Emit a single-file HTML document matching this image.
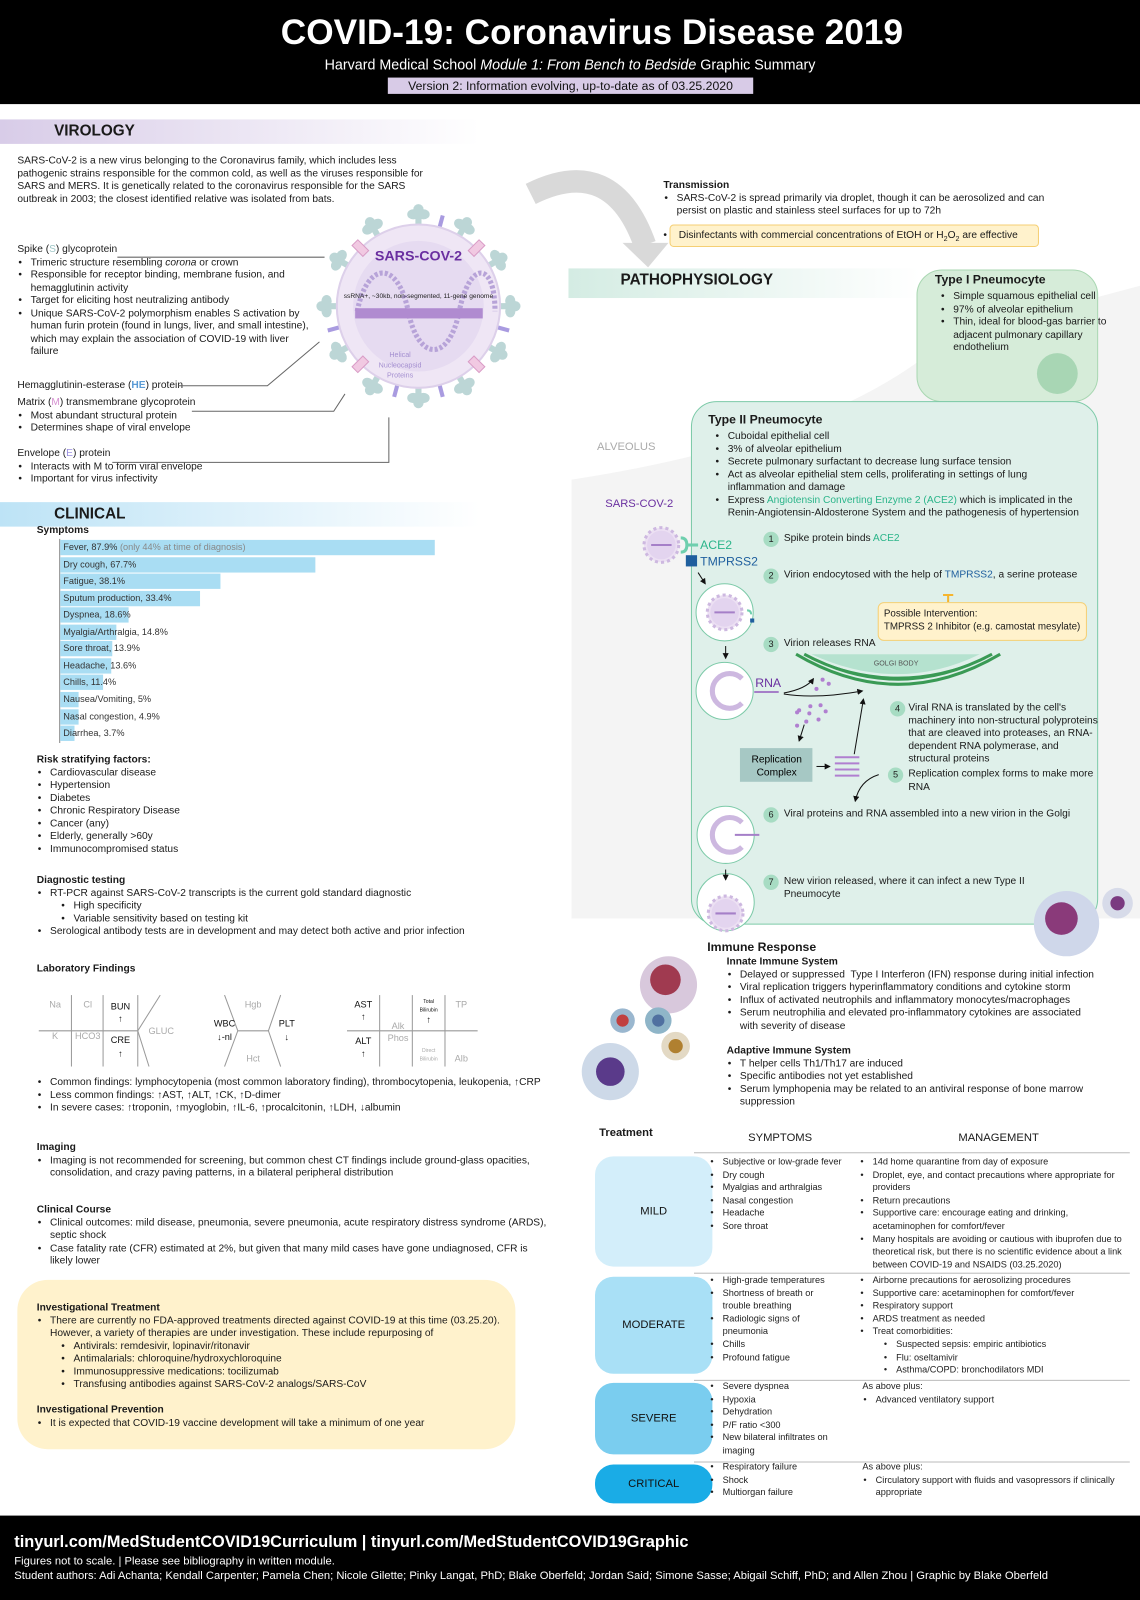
<!DOCTYPE html>
<html style="width:1140px;height:1600px;overflow:hidden"><head><meta charset="utf-8">
<style>
*{margin:0;padding:0;box-sizing:border-box}
body{width:1140px;height:1600px;position:relative;background:#fff;font-family:"Liberation Sans",Arial,sans-serif;color:#1a1a1a;overflow:hidden;font-size:10px;line-height:12.5px}
#w{position:absolute;left:0;top:0;width:1117px;height:1567px;overflow:hidden;transform:scale(1.0206);transform-origin:0 0}
.a{position:absolute}
ul{list-style:none}
ul li{position:relative;padding-left:13px}
ul li:before{content:"•";position:absolute;left:1px}
b{font-weight:bold}
.bar{position:absolute;left:59px;height:15px;background:#a9ddf3;font-size:9px;line-height:15px;padding-left:3px;white-space:nowrap;color:#333}
.num{position:absolute;width:15px;height:15px;border-radius:50%;background:#a7dcc3;font-size:9px;line-height:15px;text-align:center;color:#222}
.tr{font-size:9px;line-height:12.6px;color:#222}
.rb{position:absolute;left:583px;width:115px;border-radius:18px;text-align:center;font-size:11px;color:#111;display:flex;align-items:center;justify-content:center}
.hl{position:absolute;left:680px;width:427px;height:1px;background:#bbb}
</style></head><body><div id="w">

<!-- header -->
<div class="a" style="left:0;top:0;width:1117px;height:102px;background:#000"></div>
<div class="a" style="left:0;top:11px;width:1117px;padding-left:43px;text-align:center;color:#fff;font-weight:bold;font-size:34.5px;line-height:42px">COVID-19: Coronavirus Disease 2019</div>
<div class="a" style="left:0;top:55px;width:1117px;text-align:center;color:#fff;font-size:14px;line-height:17px">Harvard Medical School <i>Module 1: From Bench to Bedside</i> Graphic Summary</div>
<div class="a" style="left:380px;top:76px;width:358px;height:16px;background:#d8cbe7;color:#111;font-size:12px;line-height:16px;text-align:center">Version 2: Information evolving, up-to-date as of 03.25.2020</div>

<!-- virology -->
<div class="a" style="left:0;top:117px;width:470px;height:24px;background:linear-gradient(90deg,#d8cce8,#fff)"></div>
<div class="a" style="left:53px;top:120px;font-weight:bold;font-size:15px;line-height:18px">VIROLOGY</div>
<div class="a" style="left:17px;top:152px;width:405px">SARS-CoV-2 is a new virus belonging to the Coronavirus family, which includes less pathogenic strains responsible for the common cold, as well as the viruses responsible for SARS and MERS. It is genetically related to the coronavirus responsible for the SARS outbreak in 2003; the closest identified relative was isolated from bats.</div>
<div class="a" style="left:17px;top:239px;width:292px">Spike (<span style="color:#9fc7c7">S</span>) glycoprotein
<ul><li>Trimeric structure resembling <i>corona</i> or crown</li><li>Responsible for receptor binding, membrane fusion, and hemagglutinin activity</li><li>Target for eliciting host neutralizing antibody</li><li>Unique SARS-CoV-2 polymorphism enables S activation by human furin protein (found in lungs, liver, and small intestine), which may explain the association of COVID-19 with liver failure</li></ul></div>
<div class="a" style="left:17px;top:372px">Hemagglutinin-esterase (<b style="color:#5b9bd5">HE</b>) protein</div>
<div class="a" style="left:17px;top:389px">Matrix (<span style="color:#d58fd0">M</span>) transmembrane glycoprotein<ul><li>Most abundant structural protein</li><li>Determines shape of viral envelope</li></ul></div>
<div class="a" style="left:17px;top:439px">Envelope (<span style="color:#9b8fe0">E</span>) protein<ul><li>Interacts with M to form viral envelope</li><li>Important for virus infectivity</li></ul></div>

<svg class="a" style="left:0;top:0" width="1117" height="1567">
 <g stroke="#666" stroke-width="1" fill="none">
  <polyline points="115,252 318,252"/>
  <polyline points="175,378 262,378 313,335"/>
  <polyline points="188,403 327,403 338,386"/>
  <polyline points="110,453 381,453 381,409"/>
 </g>
 <path d="M520,190 Q600,150 632,240" stroke="#d9d9d9" stroke-width="22" fill="none"/>
 <polygon points="610,238 655,238 635,262" fill="#d9d9d9"/>
 <g transform="translate(410,300)">
  <g fill="#bcd6d6">
   <g id="sp"><rect x="-3" y="-88" width="6" height="14"/><ellipse cx="-5" cy="-90" rx="6" ry="5"/><ellipse cx="5" cy="-90" rx="6" ry="5"/><ellipse cx="0" cy="-95" rx="5" ry="5"/></g>
   <use href="#sp" transform="rotate(30)"/><use href="#sp" transform="rotate(60)"/><use href="#sp" transform="rotate(90)"/><use href="#sp" transform="rotate(120)"/><use href="#sp" transform="rotate(150)"/><use href="#sp" transform="rotate(180)"/><use href="#sp" transform="rotate(210)"/><use href="#sp" transform="rotate(240)"/><use href="#sp" transform="rotate(270)"/><use href="#sp" transform="rotate(300)"/><use href="#sp" transform="rotate(330)"/>
  </g>
  <g stroke="#a99be0" stroke-width="4"><line x1="0" y1="-78" x2="0" y2="-92" transform="rotate(15)"/><line x1="0" y1="-78" x2="0" y2="-92" transform="rotate(105)"/><line x1="0" y1="-78" x2="0" y2="-92" transform="rotate(195)"/><line x1="0" y1="-78" x2="0" y2="-92" transform="rotate(255)"/><line x1="0" y1="-78" x2="0" y2="-92" transform="rotate(165)"/></g>
  <circle r="80" fill="#efe6f5" stroke="#ddd0ea" stroke-width="2"/>
  <g fill="#f1c9e2" stroke="#d99cc6"><rect x="-4" y="-88" width="8" height="15" transform="rotate(45)"/><rect x="-4" y="-88" width="8" height="15" transform="rotate(-45)"/><rect x="-4" y="-88" width="8" height="15" transform="rotate(135)"/><rect x="-4" y="-88" width="8" height="15" transform="rotate(225)"/></g>
  <circle r="64" fill="#e6dbf1"/>
  <path d="M-60,5 C-50,-45 -20,-45 -10,5 C0,55 30,55 40,5 C50,-45 75,-45 75,5" stroke="#b7a3d8" stroke-width="5" fill="none" stroke-dasharray="3 2"/>
  <rect x="-62" y="2" width="125" height="10" fill="#b08bd0"/>
 </g>
 <text x="410" y="255" font-size="14" font-weight="bold" fill="#6a2fa0" text-anchor="middle" font-family="Liberation Sans">SARS-COV-2</text>
 <text x="410" y="292" font-size="6.5" fill="#222" text-anchor="middle" font-family="Liberation Sans">ssRNA+, ~30kb, non-segmented, 11-gene genome</text>
 <text x="392" y="350" font-size="7" fill="#a48fd0" text-anchor="middle" font-family="Liberation Sans">Helical</text>
 <text x="392" y="360" font-size="7" fill="#a48fd0" text-anchor="middle" font-family="Liberation Sans">Nucleocapsid</text>
 <text x="392" y="370" font-size="7" fill="#a48fd0" text-anchor="middle" font-family="Liberation Sans">Proteins</text>
</svg>

<!-- transmission -->
<div class="a" style="left:650px;top:176px;width:400px"><b>Transmission</b><ul><li>SARS-CoV-2 is spread primarily via droplet, though it can be aerosolized and can persist on plastic and stainless steel surfaces for up to 72h</li></ul></div>
<div class="a" style="left:650px;top:225px">•</div>
<div class="a" style="left:656px;top:220px;width:362px;height:22px;background:#fff2cc;border:1px solid #f5cf74;border-radius:4px;padding:4px 8px">Disinfectants with commercial concentrations of EtOH or H<sub style="font-size:7px">2</sub>O<sub style="font-size:7px">2</sub> are effective</div>

<!-- patho -->
<div class="a" style="left:557px;top:263px;width:345px;height:29px;background:linear-gradient(90deg,#d4ece3,#fff)"></div>
<div class="a" style="left:608px;top:266px;font-weight:bold;font-size:15px;line-height:18px">PATHOPHYSIOLOGY</div>
<svg class="a" style="left:0;top:0" width="1117" height="1567">
 <path d="M560,470 Q820,430 930,330 L1117,280 L1117,900 L560,900 Z" fill="#f4f4f4"/>
</svg>
<div class="a" style="left:898px;top:264px;width:178px;height:130px;background:#d6ecd9;border:1px solid #a9d7b2;border-radius:25px"></div>
<div class="a" style="left:1016px;top:346px;width:40px;height:40px;border-radius:50%;background:#a8d6b4"></div>
<div class="a" style="left:916px;top:267px;font-weight:bold;font-size:12px;line-height:14px">Type I Pneumocyte</div>
<div class="a" style="left:921px;top:285px;width:172px"><ul><li>Simple squamous epithelial cell</li><li>97% of alveolar epithelium</li><li>Thin, ideal for blood-gas barrier to adjacent pulmonary capillary endothelium</li></ul></div>

<div class="a" style="left:677px;top:393px;width:399px;height:513px;background:#dff0ea;border:1px solid #7ccaa8;border-radius:25px"></div>
<div class="a" style="left:585px;top:432px;font-size:11px;color:#aaa">ALVEOLUS</div>
<div class="a" style="left:593px;top:488px;font-size:11px;color:#6a2fa0">SARS-COV-2</div>
<div class="a" style="left:694px;top:404px;font-weight:bold;font-size:12px;line-height:14px">Type II Pneumocyte</div>
<div class="a" style="left:700px;top:422px;width:358px"><ul><li>Cuboidal epithelial cell</li><li>3% of alveolar epithelium</li><li>Secrete pulmonary surfactant to decrease lung surface tension</li><li>Act as alveolar epithelial stem cells, proliferating in settings of lung inflammation and damage</li><li>Express <span style="color:#2bb58a">Angiotensin Converting Enzyme 2 (ACE2)</span> which is implicated in the Renin-Angiotensin-Aldosterone System and the pathogenesis of hypertension</li></ul></div>

<svg class="a" style="left:0;top:0" width="1117" height="1567" font-family="Liberation Sans">
 <defs>
  <g id="vir"><circle r="17" fill="#ece0f3" stroke="#cdb8e0" stroke-dasharray="3 3" stroke-width="3"/><circle r="14" fill="#e3d4ef"/><line x1="-10" y1="0" x2="10" y2="0" stroke="#a57fc8" stroke-width="2"/></g>
  <marker id="ar" markerWidth="6" markerHeight="6" refX="5" refY="3" orient="auto"><path d="M0,0 L6,3 L0,6 Z" fill="#111"/></marker>
 </defs>
 <use href="#vir" x="648" y="534"/>
 <path d="M667,527 q6,0 6,7 q0,7 -6,7" stroke="#6fcfae" stroke-width="3" fill="none"/><line x1="673" y1="534" x2="684" y2="534" stroke="#6fcfae" stroke-width="3"/>
 <rect x="672" y="544" width="11" height="11" fill="#1f5f9e"/>
 <text x="686" y="538" font-size="12" fill="#2bb58a">ACE2</text>
 <text x="686" y="554" font-size="12" fill="#1f5f9e">TMPRSS2</text>
 <line x1="684" y1="561" x2="691" y2="572" stroke="#111" marker-end="url(#ar)"/>
 <g fill="#fff" stroke="#7ccaa8"><circle cx="710" cy="600" r="28"/><circle cx="710" cy="677" r="28"/><circle cx="711" cy="818" r="28"/><circle cx="711" cy="884" r="28"/></g>
 <use href="#vir" x="710" y="600"/>
 <rect x="735" y="606" width="4" height="4" fill="#1f5f9e"/>
 <path d="M732,598 q4,0 4,4" stroke="#6fcfae" stroke-width="2" fill="none"/>
 <path d="M727,665 a17,17 0 1 0 0,24" stroke="#cdb8e0" stroke-width="5" fill="none"/>
 <path d="M727,806 a17,17 0 1 0 0,24" stroke="#cdb8e0" stroke-width="5" fill="none"/>
 <line x1="720" y1="818" x2="744" y2="818" stroke="#a57fc8" stroke-width="2"/>
 <use href="#vir" x="711" y="895"/>
 <line x1="711" y1="633" x2="711" y2="645" stroke="#111" marker-end="url(#ar)"/>
 <line x1="711" y1="852" x2="711" y2="862" stroke="#111" marker-end="url(#ar)"/>
 <text x="740" y="673" font-size="12" fill="#6a2fa0">RNA</text>
 <line x1="739" y1="678" x2="763" y2="678" stroke="#a57fc8" stroke-width="2"/>
 <path d="M795,641 Q880,680 960,641 Z" fill="#b5e2cf"/>
 <path d="M780,641 Q880,700 980,641" stroke="#3a9a55" stroke-width="3" fill="none"/>
 <path d="M788,641 Q880,690 972,641" stroke="#3a9a55" stroke-width="3" fill="none"/>
 <path d="M795,645 Q880,683 965,645" stroke="#3a9a55" stroke-width="2" fill="none"/>
 <text x="878" y="652" font-size="7" fill="#555" text-anchor="middle">GOLGI BODY</text>
 <path d="M768,679 Q790,675 797,665" stroke="#111" fill="none" marker-end="url(#ar)"/>
 <path d="M768,680 Q800,685 845,677" stroke="#111" fill="none" marker-end="url(#ar)"/>
 <g fill="#b07fd0"><circle cx="806" cy="666" r="2"/><circle cx="812" cy="670" r="2"/><circle cx="800" cy="675" r="2"/><circle cx="794" cy="692" r="2"/><circle cx="783" cy="696" r="2"/><circle cx="793" cy="699" r="2"/><circle cx="804" cy="691" r="2"/><circle cx="809" cy="697" r="2"/><circle cx="790" cy="707" r="2"/><circle cx="781" cy="711" r="2"/><circle cx="802" cy="705" r="2"/><circle cx="781" cy="698" r="2"/></g>
 <line x1="788" y1="710" x2="783" y2="726" stroke="#111" marker-end="url(#ar)"/>
 <rect x="725" y="733" width="71" height="33" fill="#a6c8c4"/>
 <text x="761" y="747" font-size="10" text-anchor="middle">Replication</text>
 <text x="761" y="760" font-size="10" text-anchor="middle">Complex</text>
 <line x1="800" y1="751" x2="813" y2="751" stroke="#111" marker-end="url(#ar)"/>
 <g stroke="#b07fd0" stroke-width="2"><line x1="818" y1="742" x2="842" y2="742"/><line x1="818" y1="748" x2="842" y2="748"/><line x1="818" y1="754" x2="842" y2="754"/><line x1="818" y1="760" x2="842" y2="760"/></g>
 <line x1="837" y1="739" x2="846" y2="685" stroke="#111" marker-end="url(#ar)"/>
 <path d="M861,759 Q842,765 838,785" stroke="#111" fill="none" marker-end="url(#ar)"/>
 <path d="M929,583 L929,590 M924,583 L934,583" stroke="#f5b52e" stroke-width="2"/>
</svg>
<div class="num" style="left:748px;top:521px">1</div><div class="a" style="left:768px;top:522px">Spike protein binds <span style="color:#2bb58a">ACE2</span></div>
<div class="num" style="left:748px;top:557px">2</div><div class="a" style="left:768px;top:558px">Virion endocytosed with the help of <span style="color:#1f5f9e">TMPRSS2</span>, a serine protease</div>
<div class="a" style="left:860px;top:590px;width:205px;height:38px;background:#fff2cc;border:1px solid #f5cf74;border-radius:6px;padding:5px 5px;white-space:nowrap;font-size:9.6px">Possible Intervention:<br>TMPRSS 2 Inhibitor (e.g. camostat mesylate)</div>
<div class="num" style="left:748px;top:624px">3</div><div class="a" style="left:768px;top:625px">Virion releases RNA</div>
<div class="num" style="left:872px;top:687px">4</div><div class="a" style="left:881px;top:688px;width:200px;padding-left:9px">Viral RNA is translated by the cell's machinery into non-structural polyproteins that are cleaved into proteases, an RNA-dependent RNA polymerase, and structural proteins</div>
<div class="num" style="left:870px;top:752px">5</div><div class="a" style="left:890px;top:753px;width:185px">Replication complex forms to make more RNA</div>
<div class="num" style="left:748px;top:791px">6</div><div class="a" style="left:768px;top:792px">Viral proteins and RNA assembled into a new virion in the Golgi</div>
<div class="num" style="left:748px;top:857px">7</div><div class="a" style="left:768px;top:858px;width:260px">New virion released, where it can infect a new Type II Pneumocyte</div>

<svg class="a" style="left:0;top:0" width="1117" height="1567">
 <circle cx="1045" cy="905" r="32" fill="#cfd7ea"/><circle cx="1040" cy="900" r="16" fill="#8a3a7a"/>
 <circle cx="1095" cy="885" r="15" fill="#d7dbe9"/><circle cx="1095" cy="885" r="7" fill="#7a3a80"/>
 <circle cx="655" cy="965" r="28" fill="#d8c8dc"/><circle cx="652" cy="960" r="15" fill="#a03a50"/>
 <circle cx="598" cy="1050" r="28" fill="#cdd9e8"/><circle cx="598" cy="1050" r="14" fill="#5a3a8a"/>
 <circle cx="662" cy="1025" r="14" fill="#e3d9c4"/><circle cx="662" cy="1025" r="7" fill="#b08030"/>
 <circle cx="610" cy="1000" r="12" fill="#9ab7cf"/><circle cx="610" cy="1000" r="6" fill="#c04040"/>
 <circle cx="645" cy="1000" r="13" fill="#8fb5c8"/><circle cx="645" cy="1000" r="6" fill="#5070a0"/>
</svg>
<div class="a" style="left:693px;top:921px;font-weight:bold;font-size:12px;line-height:14px">Immune Response</div>
<div class="a" style="left:712px;top:937px;width:360px"><b>Innate Immune System</b><ul><li>Delayed or suppressed &nbsp;Type I Interferon (IFN) response during initial infection</li><li>Viral replication triggers hyperinflammatory conditions and cytokine storm</li><li>Influx of activated neutrophils and inflammatory monocytes/macrophages</li><li>Serum neutrophilia and elevated pro-inflammatory cytokines are associated with severity of disease</li></ul></div>
<div class="a" style="left:712px;top:1024px;width:360px"><b>Adaptive Immune System</b><ul><li>T helper cells Th1/Th17 are induced</li><li>Specific antibodies not yet established</li><li>Serum lymphopenia may be related to an antiviral response of bone marrow suppression</li></ul></div>

<!-- treatment -->
<div class="a" style="left:587px;top:1104px;font-weight:bold;font-size:11px">Treatment</div>
<div class="a" style="left:733px;top:1109px;font-size:11px">SYMPTOMS</div>
<div class="a" style="left:939px;top:1109px;font-size:11px">MANAGEMENT</div>
<div class="hl" style="top:1129px"></div><div class="hl" style="top:1247px"></div><div class="hl" style="top:1352px"></div><div class="hl" style="top:1432px"></div>
<div class="rb" style="top:1133px;height:108px;background:#d3eefa">MILD</div>
<div class="rb" style="top:1251px;height:95px;background:#a9e0f6">MODERATE</div>
<div class="rb" style="top:1355px;height:70px;background:#7acdef">SEVERE</div>
<div class="rb" style="top:1435px;height:38px;background:#1aace6">CRITICAL</div>
<div class="a tr" style="left:695px;top:1132px;width:148px"><ul><li>Subjective or low-grade fever</li><li>Dry cough</li><li>Myalgias and arthralgias</li><li>Nasal congestion</li><li>Headache</li><li>Sore throat</li></ul></div>
<div class="a tr" style="left:842px;top:1132px;width:262px"><ul><li>14d home quarantine from day of exposure</li><li>Droplet, eye, and contact precautions where appropriate for providers</li><li>Return precautions</li><li>Supportive care: encourage eating and drinking, acetaminophen for comfort/fever</li><li>Many hospitals are avoiding or cautious with ibuprofen due to theoretical risk, but there is no scientific evidence about a link between COVID-19 and NSAIDS (03.25.2020)</li></ul></div>
<div class="a tr" style="left:695px;top:1248px;width:125px"><ul><li>High-grade temperatures</li><li>Shortness of breath or trouble breathing</li><li>Radiologic signs of pneumonia</li><li>Chills</li><li>Profound fatigue</li></ul></div>
<div class="a tr" style="left:842px;top:1248px;width:262px"><ul><li>Airborne precautions for aerosolizing procedures</li><li>Supportive care: acetaminophen for comfort/fever</li><li>Respiratory support</li><li>ARDS treatment as needed</li><li>Treat comorbidities:<ul style="margin-left:10px"><li>Suspected sepsis: empiric antibiotics</li><li>Flu: oseltamivir</li><li>Asthma/COPD: bronchodilators MDI</li></ul></li></ul></div>
<div class="a tr" style="left:695px;top:1352px;width:125px"><ul><li>Severe dyspnea</li><li>Hypoxia</li><li>Dehydration</li><li>P/F ratio &lt;300</li><li>New bilateral infiltrates on imaging</li></ul></div>
<div class="a tr" style="left:845px;top:1352px;width:255px">As above plus:<ul><li>Advanced ventilatory support</li></ul></div>
<div class="a tr" style="left:695px;top:1431px;width:125px"><ul><li>Respiratory failure</li><li>Shock</li><li>Multiorgan failure</li></ul></div>
<div class="a tr" style="left:845px;top:1431px;width:255px">As above plus:<ul><li>Circulatory support with fluids and vasopressors if clinically appropriate</li></ul></div>

<!-- clinical -->
<div class="a" style="left:0;top:492px;width:470px;height:24px;background:linear-gradient(90deg,#bde3f6,#fff)"></div>
<div class="a" style="left:53px;top:495px;font-weight:bold;font-size:15px;line-height:18px">CLINICAL</div>
<div class="a" style="left:36px;top:514px;font-weight:bold">Symptoms</div>
<div class="a" style="left:58px;top:528px;width:1px;height:200px;background:#888"></div>
<div class="bar" style="top:529px;width:367px">Fever, 87.9% <span style="color:#888">(only 44% at time of diagnosis)</span></div>
<div class="bar" style="top:546px;width:250px">Dry cough, 67.7%</div>
<div class="bar" style="top:562px;width:157px">Fatigue, 38.1%</div>
<div class="bar" style="top:579px;width:137px">Sputum production, 33.4%</div>
<div class="bar" style="top:595px;width:67px">Dyspnea, 18.6%</div>
<div class="bar" style="top:612px;width:55px">Myalgia/Arthralgia, 14.8%</div>
<div class="bar" style="top:628px;width:51px">Sore throat, 13.9%</div>
<div class="bar" style="top:645px;width:50px">Headache, 13.6%</div>
<div class="bar" style="top:661px;width:42px">Chills, 11.4%</div>
<div class="bar" style="top:678px;width:18px">Nausea/Vomiting, 5%</div>
<div class="bar" style="top:695px;width:18px">Nasal congestion, 4.9%</div>
<div class="bar" style="top:711px;width:14px">Diarrhea, 3.7%</div>

<div class="a" style="left:36px;top:739px;width:300px"><b>Risk stratifying factors:</b><ul><li>Cardiovascular disease</li><li>Hypertension</li><li>Diabetes</li><li>Chronic Respiratory Disease</li><li>Cancer (any)</li><li>Elderly, generally &gt;60y</li><li>Immunocompromised status</li></ul></div>
<div class="a" style="left:36px;top:857px;width:470px"><b>Diagnostic testing</b><ul><li>RT-PCR against SARS-CoV-2 transcripts is the current gold standard diagnostic<ul style="margin-left:10px"><li>High specificity</li><li>Variable sensitivity based on testing kit</li></ul></li><li>Serological antibody tests are in development and may detect both active and prior infection</li></ul></div>
<div class="a" style="left:36px;top:944px;font-weight:bold">Laboratory Findings</div>

<svg class="a" style="left:0;top:0" width="1117" height="1567" font-family="Liberation Sans" font-size="9">
 <g stroke="#999" fill="none">
  <line x1="38" y1="1010" x2="135" y2="1010"/><line x1="70" y1="975" x2="70" y2="1045"/><line x1="101" y1="975" x2="101" y2="1045"/><line x1="135" y1="975" x2="135" y2="1045"/>
  <polyline points="157,975 135,1010 146,1045"/>
  <polyline points="220,975 233,1010 220,1045"/><line x1="233" y1="1010" x2="263" y2="1010"/><polyline points="275,975 263,1010 275,1045"/>
  <line x1="340" y1="1010" x2="468" y2="1010"/><line x1="372" y1="975" x2="372" y2="1045"/><line x1="404" y1="975" x2="404" y2="1045"/><line x1="436" y1="975" x2="436" y2="1045"/>
 </g>
 <g fill="#aaa" text-anchor="middle"><text x="54" y="987">Na</text><text x="86" y="987">Cl</text><text x="54" y="1018">K</text><text x="86" y="1018">HCO3</text><text x="158" y="1013">GLUC</text><text x="248" y="987">Hgb</text><text x="248" y="1040">Hct</text><text x="390" y="1008">Alk</text><text x="390" y="1020">Phos</text><text x="452" y="987">TP</text><text x="452" y="1040">Alb</text><text x="420" y="1031" font-size="5">Direct</text><text x="420" y="1039" font-size="5">Bilirubin</text></g>
 <g fill="#111" text-anchor="middle"><text x="118" y="989">BUN</text><text x="118" y="1001">↑</text><text x="118" y="1022">CRE</text><text x="118" y="1035">↑</text><text x="220" y="1006">WBC</text><text x="220" y="1019">↓-nl</text><text x="281" y="1006">PLT</text><text x="281" y="1019">↓</text><text x="356" y="987">AST</text><text x="356" y="999">↑</text><text x="356" y="1023">ALT</text><text x="356" y="1035">↑</text><text x="420" y="983" font-size="5">Total</text><text x="420" y="991" font-size="5">Bilirubin</text><text x="420" y="1002">↑</text></g>
</svg>
<div class="a" style="left:36px;top:1055px;width:500px"><ul><li>Common findings: lymphocytopenia (most common laboratory finding), thrombocytopenia, leukopenia, ↑CRP</li><li>Less common findings: ↑AST, ↑ALT, ↑CK, ↑D-dimer</li><li>In severe cases: ↑troponin, ↑myoglobin, ↑IL-6, ↑procalcitonin, ↑LDH, ↓albumin</li></ul></div>
<div class="a" style="left:36px;top:1119px;width:500px"><b>Imaging</b><ul><li>Imaging is not recommended for screening, but common chest CT findings include ground-glass opacities, consolidation, and crazy paving patterns, in a bilateral peripheral distribution</li></ul></div>
<div class="a" style="left:36px;top:1180px;width:500px"><b>Clinical Course</b><ul><li>Clinical outcomes: mild disease, pneumonia, severe pneumonia, acute respiratory distress syndrome (ARDS), septic shock</li><li>Case fatality rate (CFR) estimated at 2%, but given that many mild cases have gone undiagnosed, CFR is likely lower</li></ul></div>

<div class="a" style="left:17px;top:1254px;width:488px;height:166px;background:#fff2cc;border-radius:30px"></div>
<div class="a" style="left:36px;top:1276px;width:460px"><b>Investigational Treatment</b><ul><li>There are currently no FDA-approved treatments directed against COVID-19 at this time (03.25.20). However, a variety of therapies are under investigation. These include repurposing of<ul style="margin-left:10px"><li>Antivirals: remdesivir, lopinavir/ritonavir</li><li>Antimalarials: chloroquine/hydroxychloroquine</li><li>Immunosuppressive medications: tocilizumab</li><li>Transfusing antibodies against SARS-CoV-2 analogs/SARS-CoV</li></ul></li></ul></div>
<div class="a" style="left:36px;top:1376px;width:460px"><b>Investigational Prevention</b><ul><li>It is expected that COVID-19 vaccine development will take a minimum of one year</li></ul></div>

<!-- footer -->
<div class="a" style="left:0;top:1485px;width:1117px;height:82px;background:#000"></div>
<div class="a" style="left:14px;top:1503px;color:#fff;font-weight:bold;font-size:16px;line-height:18px">tinyurl.com/MedStudentCOVID19Curriculum | tinyurl.com/MedStudentCOVID19Graphic</div>
<div class="a" style="left:14px;top:1524px;color:#fff;font-size:11px;line-height:13px">Figures not to scale. | Please see bibliography in written module.</div>
<div class="a" style="left:14px;top:1538px;color:#fff;font-size:11px;line-height:13px">Student authors: Adi Achanta; Kendall Carpenter; Pamela Chen; Nicole Gilette; Pinky Langat, PhD; Blake Oberfeld; Jordan Said; Simone Sasse; Abigail Schiff, PhD; and Allen Zhou | Graphic by Blake Oberfeld</div>
</div>
<div style="position:absolute;left:0;top:1598px;width:1140px;height:2px;background:#000"></div>
</body></html>
